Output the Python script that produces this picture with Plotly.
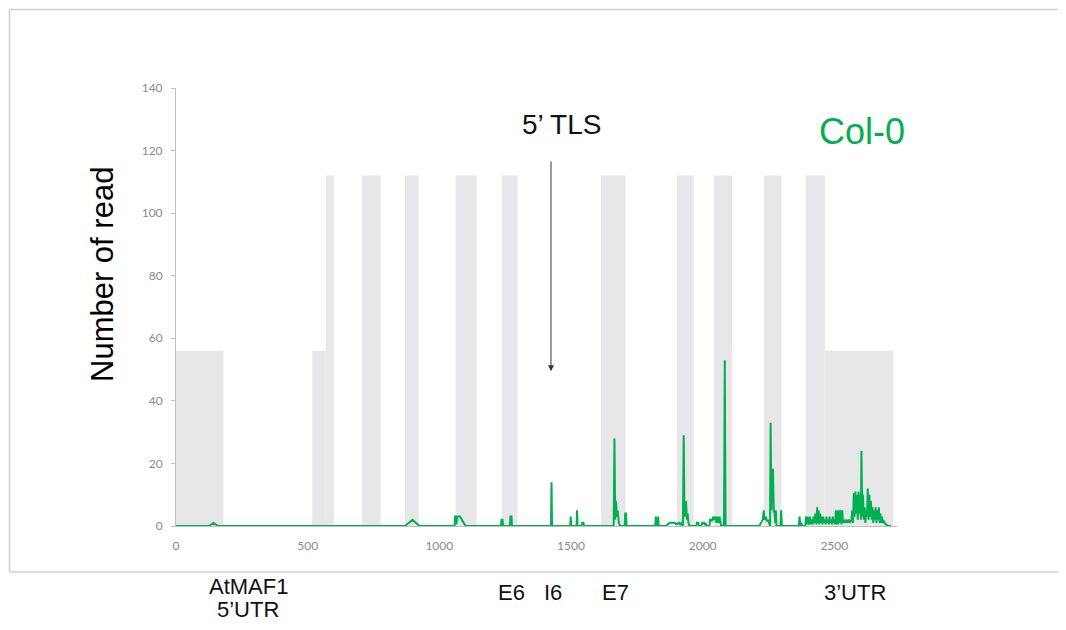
import plotly.graph_objects as go

# ---- data ----
# grey gene-structure blocks (start, end, height)
utr_start = [0, 517, 2464]
utr_end = [180, 569, 2724]
utr_height = [56, 56, 56]

exon_start = [569, 706, 869, 1062, 1238, 1614, 1903, 2043, 2233, 2391]
exon_end = [599, 777, 921, 1142, 1297, 1706, 1966, 2112, 2298, 2464]
exon_height = [112, 112, 112, 112, 112, 112, 112, 112, 112, 112]

# read coverage (position, number of reads)
position = [
    0, 125, 142, 160,
    870, 898, 925,
    1058, 1060, 1063, 1065, 1068, 1078, 1100,
    1234, 1236, 1240, 1242,
    1268, 1270, 1274, 1276,
    1424, 1426, 1428,
    1497, 1499, 1501,
    1521, 1523, 1525,
    1540, 1543, 1547, 1550,
    1662, 1665, 1668, 1670, 1672, 1674, 1677, 1679, 1682, 1686,
    1704, 1706, 1709, 1711,
    1820, 1822, 1824, 1829, 1831, 1833,
    1860, 1875, 1895, 1900, 1910, 1915, 1920,
    1925, 1928, 1931, 1934, 1937, 1940, 1943, 1946, 1950,
    1975, 1978, 1983, 1986, 1995, 1998, 2005, 2008, 2012, 2015,
    2026, 2028, 2033, 2036, 2040, 2044, 2049, 2052, 2056, 2060, 2064, 2068, 2070,
    2081, 2084, 2087,
    2215, 2222, 2228, 2232, 2235, 2240, 2244, 2248, 2252, 2255,
    2256, 2258, 2261, 2264, 2267, 2270, 2273, 2276, 2278, 2280,
    2296, 2298, 2301,
    2365, 2368, 2371, 2374, 2378, 2382, 2390, 2392, 2395, 2398, 2401, 2404,
    2407, 2410, 2413, 2418, 2421, 2425, 2428, 2432, 2435, 2437, 2440, 2443,
    2446, 2449, 2452, 2455, 2458, 2461, 2464, 2467, 2470, 2473, 2476, 2479,
    2482, 2485, 2488, 2491, 2494, 2497, 2500, 2503, 2506, 2509, 2512, 2515,
    2518, 2521, 2524, 2527, 2530, 2533, 2536, 2540, 2545, 2550, 2555, 2560,
    2565, 2568, 2571, 2574, 2577, 2580, 2583, 2586, 2589, 2592, 2595, 2598,
    2601, 2603, 2606, 2609, 2612, 2615, 2618, 2621, 2624, 2627, 2630, 2633,
    2636, 2639, 2642, 2645, 2648, 2651, 2654, 2657, 2660, 2663, 2666, 2669,
    2672, 2675, 2678, 2681, 2684, 2688, 2695, 2705, 2715,
]
reads = [
    0, 0, 1, 0,
    0, 2, 0,
    0, 3, 3, 0.5, 3, 3, 0,
    0, 2, 2, 0,
    0, 3, 3, 0,
    0, 14, 0,
    0, 3, 0,
    0, 5, 0,
    0, 1, 1, 0,
    0, 28, 2, 8, 7, 3, 5, 2, 1, 0,
    0, 4, 4, 0,
    0, 3, 0, 0, 3, 0,
    0, 1, 1, 0.5, 1, 0.5, 1,
    0, 29, 3, 5, 8, 2, 4, 1, 0,
    0, 1, 1, 0, 0, 1, 1, 0.3, 1, 0,
    0, 2, 2, 1.5, 3, 2, 3, 1, 3, 1, 3, 1, 0,
    0, 53, 0,
    0, 1, 2, 5, 2, 3, 1.5, 2, 1, 0,
    0, 33, 5, 18, 18, 5, 4, 1, 5, 0,
    0, 5, 0,
    0, 3, 0, 1, 0, 0, 0, 3, 0.5, 3, 0.5, 1,
    3, 0.5, 2, 0.5, 3, 1, 4, 0.5, 6, 1, 5, 0.5,
    4, 1, 3, 0.5, 3, 1, 2, 0.5, 3, 1, 2, 0.5,
    3, 1, 2, 0.5, 3, 1, 2, 0.5, 5, 0.5, 5, 0.5,
    5, 1, 5, 0.5, 5, 1, 2, 1, 2, 1, 2, 1,
    2, 5, 1, 10.5, 3, 11, 4, 10, 2, 11, 4, 10,
    2, 24, 3, 10, 2, 6, 1, 5, 3, 12, 2, 10,
    3, 8, 2, 6, 1, 5, 2, 6, 1, 5, 2, 6,
    1, 4, 1, 3, 1, 1.5, 0.5, 0, 0,
]

y_ticks = [0, 20, 40, 60, 80, 100, 120, 140]
x_ticks = [0, 500, 1000, 1500, 2000, 2500]

# ---- figure geometry (page body has an 8px margin) ----
OFF = 8
W, H = 1050, 614
L, T = 176 - OFF, 88 - OFF
R = W - (897 - OFF)
B = H - (526 - OFF)
plot_w = W - L - R
plot_h = H - T - B
x_max = 2738
y_max = 140

GREY = "#e7e6e8"
GREEN = "#00b050"
FONT = "Liberation Sans, Arial"
FRAME = "#d0d0d0"


def px_x(px):
    return (px - OFF - L) / plot_w


def px_y(py):
    return (H - B - (py - OFF)) / plot_h


fig = go.Figure()

shapes = []
for s, e, h in zip(utr_start + exon_start, utr_end + exon_end, utr_height + exon_height):
    shapes.append(dict(type="rect", xref="x", yref="y", x0=s, x1=e, y0=0, y1=h,
                       fillcolor=GREY, line=dict(width=0), layer="below"))

# outer frame of the original slide (left, top and bottom edges only)
fl, fr, ft, fb = px_x(9.5), px_x(1066), px_y(9.5), px_y(572)
for x0, y0, x1, y1 in [(fl, fb, fl, ft), (fl, ft, fr, ft), (fl, fb, fr, fb)]:
    shapes.append(dict(type="line", xref="paper", yref="paper", x0=x0, y0=y0, x1=x1, y1=y1,
                       line=dict(color=FRAME, width=1.5), layer="below"))

fig.add_trace(go.Scatter(x=position, y=reads, mode="lines",
                         line=dict(color=GREEN, width=2), hoverinfo="x+y",
                         showlegend=False))


def label(text, x, y, size=23, color="#111111", angle=0):
    return dict(text=text, x=px_x(x), y=px_y(y), xref="paper", yref="paper",
                showarrow=False, font=dict(family=FONT, size=size, color=color),
                xanchor="center", yanchor="middle", textangle=angle)


annotations = [
    label("Number of read", 102, 275, size=31, color="#000000", angle=-90),
    label("5’ TLS", 561, 124, size=28),
    label("Col-0", 862, 131, size=36, color=GREEN),
    dict(text="", x=1424, y=49.5, xref="x", yref="y", ax=1424, ay=117, axref="x", ayref="y",
         showarrow=True, arrowhead=2, arrowsize=1.2, arrowwidth=1, arrowcolor="#333333",
         standoff=0),
    label("AtMAF1", 248, 586, size=22),
    label("5’UTR", 248, 609, size=22),
    label("E6", 511, 592, size=22),
    label("I6", 553, 592, size=22),
    label("E7", 615, 592, size=22),
    label("3’UTR", 855, 592, size=22),
]

fig.update_layout(
    width=W, height=H,
    margin=dict(l=L, r=R, t=T, b=B, pad=0),
    paper_bgcolor="white", plot_bgcolor="white",
    shapes=shapes, annotations=annotations,
    showlegend=False,
    xaxis=dict(range=[0, x_max], tickvals=x_ticks, ticktext=[str(v) for v in x_ticks],
               showline=True, linecolor="#bfbfbf", linewidth=1, ticks="",
               showgrid=False, zeroline=False, ticklabelstandoff=9,
               tickfont=dict(family="Lato, Open Sans, sans-serif", size=12, color="#8a8a8a")),
    yaxis=dict(range=[0, y_max], tickvals=y_ticks, ticktext=[str(v) for v in y_ticks],
               showline=True, linecolor="#bfbfbf", linewidth=1, ticks="outside",
               ticklen=4, tickcolor="#bfbfbf", showgrid=False, zeroline=False,
               ticklabelstandoff=6,
               tickfont=dict(family="Lato, Open Sans, sans-serif", size=12, color="#8a8a8a")),
)

fig.write_html("out.html")
